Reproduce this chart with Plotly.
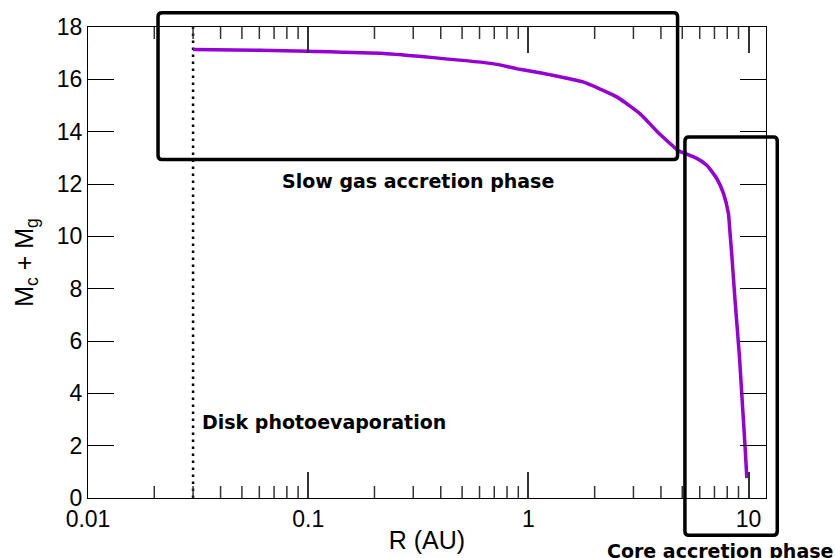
import math
import plotly.graph_objects as go

# Planet mass (core + envelope) along the migration track
r_au = [0.03, 0.06, 0.1, 0.22, 0.37, 0.69, 0.88, 1.0, 1.25, 1.77, 2.52, 3.21,
        3.83, 4.4, 4.8, 5.24, 5.82, 6.46, 7.17, 7.69, 8.1, 8.24, 8.39, 8.68,
        9.08, 9.31, 9.64, 9.82]
mass = [17.14, 17.11, 17.07, 16.99, 16.83, 16.60, 16.41, 16.33, 16.18, 15.90,
        15.33, 14.69, 14.02, 13.55, 13.27, 13.14, 12.98, 12.72, 12.21, 11.64,
        10.87, 10.11, 9.3, 7.56, 5.46, 4.00, 1.96, 0.76]

# Inner disk edge where photoevaporation stops migration
r_photo = 0.03

x_tickvals = [0.01, 0.1, 1, 10]
x_ticktext = ["0.01", "0.1", "1", "10"]
y_tickvals = [0, 2, 4, 6, 8, 10, 12, 14, 16, 18]

# Phase boxes in data units: (r_min, r_max, m_min, m_max)
slow_gas_box = (0.0208, 4.76, 12.94, 18.54)
core_box = (5.14, 13.5, -1.42, 13.8)

X_RANGE = (0.01, 12.0)
Y_RANGE = (0.0, 18.0)
W, H = 835, 558
ML, MR, MT, MB = 88, 69, 27, 60
PW, PH = W - ML - MR, H - MT - MB
MAJOR_LEN, MINOR_LEN = 26, 12


def px(r):
    lo, hi = math.log10(X_RANGE[0]), math.log10(X_RANGE[1])
    return (math.log10(r) - lo) / (hi - lo)


def py(m):
    return (m - Y_RANGE[0]) / (Y_RANGE[1] - Y_RANGE[0])


def rounded_box(box, radius=4):
    x0, x1, y0, y1 = px(box[0]), px(box[1]), py(box[2]), py(box[3])
    rx, ry = radius / PW, radius / PH
    return (f"M {x0 + rx},{y0} L {x1 - rx},{y0} Q {x1},{y0} {x1},{y0 + ry} "
            f"L {x1},{y1 - ry} Q {x1},{y1} {x1 - rx},{y1} "
            f"L {x0 + rx},{y1} Q {x0},{y1} {x0},{y1 - ry} "
            f"L {x0},{y0 + ry} Q {x0},{y0} {x0 + rx},{y0} Z")


minor_vals = [k * 10 ** d for d in (-2, -1, 0) for k in range(2, 10)]
log_range = [math.log10(X_RANGE[0]), math.log10(X_RANGE[1])]

fig = go.Figure()
fig.add_trace(go.Scatter(
    x=[r_photo, r_photo], y=[Y_RANGE[0], Y_RANGE[1]], mode="lines",
    line=dict(color="black", width=2.5, dash="2.5px,4.5px"),
    hoverinfo="skip", showlegend=False))
fig.add_trace(go.Scatter(
    x=r_au, y=mass, mode="lines",
    line=dict(color="#9400D3", width=3.5, shape="spline", smoothing=0.5),
    showlegend=False))

# Minor decade ticks on the bottom and top frame edges, pointing inward
frac = MINOR_LEN / PH
for v in minor_vals:
    for y0, y1 in ((0, frac), (1 - frac, 1)):
        fig.add_shape(type="line", xref="x", yref="paper", x0=v, x1=v,
                      y0=y0, y1=y1, line=dict(color="#333333", width=1.5),
                      layer="above")

for box in (slow_gas_box, core_box):
    fig.add_shape(type="path", xref="paper", yref="paper", path=rounded_box(box),
                  line=dict(color="black", width=3.5), layer="above")

label_font = dict(family="DejaVu Sans", size=19, color="black")
fig.add_annotation(text="<b>Slow gas accretion phase</b>", xref="paper", yref="paper",
                   x=0.4874, y=0.672, xanchor="center", yanchor="middle",
                   showarrow=False, font=label_font)
fig.add_annotation(text="<b>Disk photoevaporation</b>", xref="paper", yref="paper",
                   x=0.1646, y=0.162, xanchor="left", yanchor="middle",
                   showarrow=False, font=label_font)
fig.add_annotation(text="<b>Core accretion phase</b>", xref="paper", yref="paper",
                   x=0.932, y=-0.112, xanchor="center", yanchor="middle",
                   showarrow=False, font=label_font)

axis_font = dict(family="Liberation Sans", size=23, color="black")
fig.update_layout(
    xaxis=dict(
        type="log", range=log_range, tickmode="array",
        tickvals=x_tickvals, ticktext=x_ticktext, tickfont=axis_font,
        ticks="inside", ticklen=MAJOR_LEN, tickwidth=1.5, tickcolor="#333333",
        showline=True, linecolor="black", linewidth=1, mirror="ticks",
        showgrid=False, zeroline=False, automargin=False,
        title=dict(text="R (AU)",
                   font=dict(family="Liberation Sans", size=25, color="black"),
                   standoff=0)),
    yaxis=dict(
        range=list(Y_RANGE), tickmode="array", tickvals=y_tickvals,
        tickfont=axis_font, ticksuffix=" ",
        ticks="inside", ticklen=MAJOR_LEN, tickwidth=1, tickcolor="black",
        showline=True, linecolor="black", linewidth=1, mirror="ticks",
        showgrid=False, zeroline=False, automargin=False,
        title=dict(text="M<sub>c</sub> + M<sub>g</sub>",
                   font=dict(family="Liberation Sans", size=25, color="black"),
                   standoff=16)),
    width=W, height=H, margin=dict(l=ML, r=MR, t=MT, b=MB),
    paper_bgcolor="white", plot_bgcolor="white", showlegend=False)

fig.write_html("out.html")
